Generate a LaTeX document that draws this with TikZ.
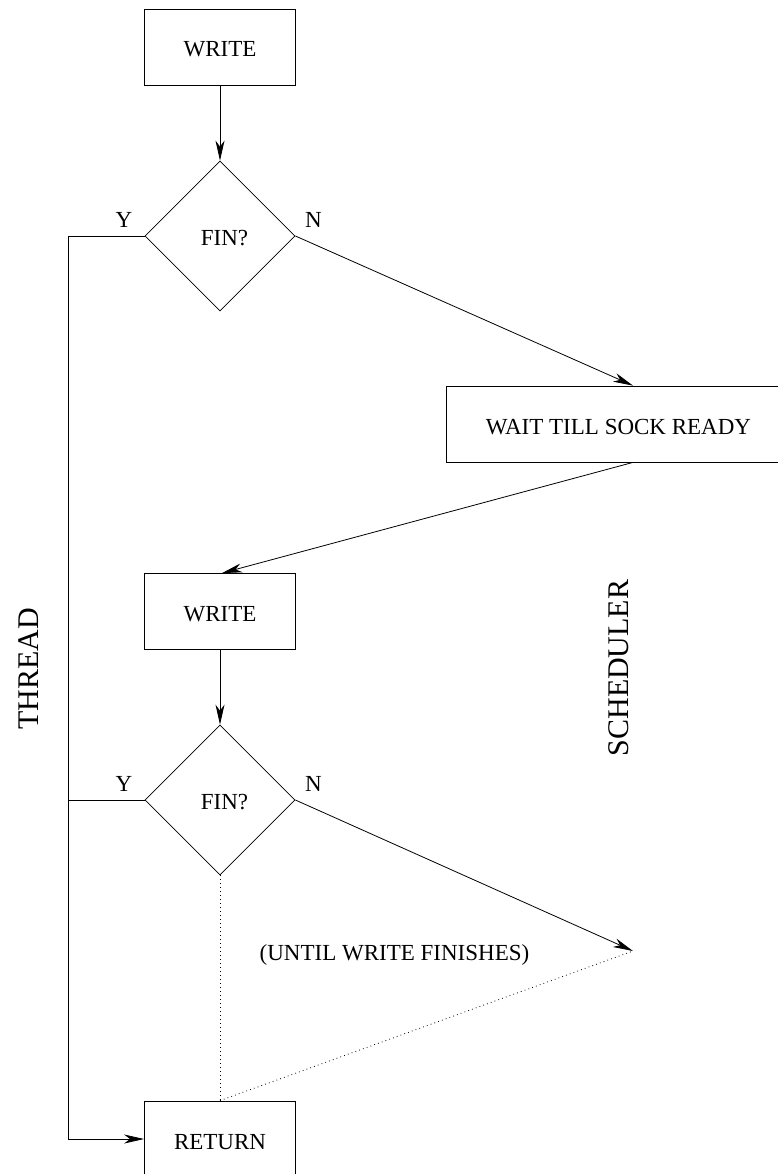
\documentclass[tikz,border=0pt]{standalone}
\usepackage{fontspec}
\setmainfont{Liberation Serif}
\usetikzlibrary{arrows.meta,shapes.geometric}
\begin{document}
\begin{tikzpicture}[x=1pt,y=-1pt,
  box/.style={draw,line width=0.8pt,minimum width=151pt,minimum height=76pt,inner sep=0pt,text height=20pt,text depth=0pt,font=\fontsize{23}{26}\selectfont},
  dec/.style={draw,diamond,line width=0.8pt,minimum width=150pt,minimum height=150pt,inner sep=0pt},
  lbl/.style={font=\fontsize{23}{26}\selectfont,inner sep=0pt},
  big/.style={font=\fontsize{30}{34}\selectfont,inner sep=0pt,rotate=90},
  conn/.style={line width=0.8pt},
  arr/.style={conn,-{Stealth[length=20pt,width=9pt,inset=6pt]}},
  dots/.style={line width=0.8pt,dash pattern=on 0.8pt off 3.2pt}]
\useasboundingbox (0,0) rectangle (778,1174);
\node[box] (w1) at (220,47) {WRITE};
\node[dec,label={[lbl,text height=20pt,xshift=4.5pt]center:FIN?}] (d1) at (220,236) {};
\node[box,minimum width=345pt] (wait) at (618.5,424) {WAIT TILL SOCK READY};
\node[box] (w2) at (220,611.5) {WRITE};
\node[dec,label={[lbl,text height=20pt,xshift=4.5pt]center:FIN?}] (d2) at (220,800) {};
\node[box] (ret) at (220,1139) {RETURN};
\node[lbl] (y1) at (124,219.5) {Y};
\node[lbl] (n1) at (313.5,219.5) {N};
\node[lbl] (y2) at (124,783.5) {Y};
\node[lbl] (n2) at (313.5,783.5) {N};
\node[lbl,anchor=base] (until) at (394.5,960) {(UNTIL WRITE FINISHES)};
\node[big] (thread) at (28.5,668.5) {THREAD};
\node[big] (sched) at (618.5,668) {SCHEDULER};
\coordinate (c) at (633,951);
\draw[arr] (w1.south) -- (d1.north);
\draw[arr] (d1.east) -- ([xshift=14.5pt]wait.north);
\draw[arr] ([xshift=14.5pt]wait.south) -- ([xshift=2pt]w2.north);
\draw[arr] (w2.south) -- (d2.north);
\draw[arr] (d2.east) -- (c);
\draw[arr] (d1.west) -- ++(-76,0) |- (ret.west);
\draw[conn] (d2.west) -- ++(-76,0);
\draw[dots] (d2.south) -- (ret.north);
\draw[dots] (ret.north) -- (c);
\end{tikzpicture}
\end{document}
